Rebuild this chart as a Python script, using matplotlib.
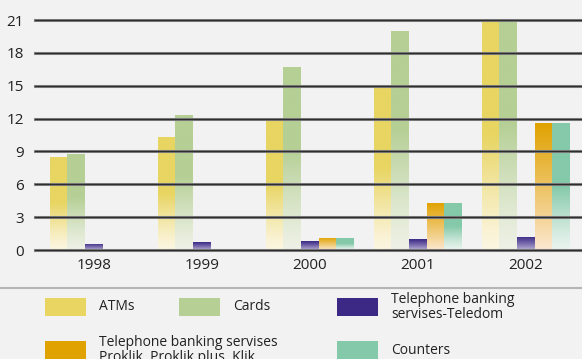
import numpy as np
import matplotlib
matplotlib.use("Agg")
import matplotlib.pyplot as plt
from matplotlib.colors import to_rgba
from matplotlib.patches import Rectangle
from matplotlib.lines import Line2D

plt.rcParams['font.family'] = ['Open Sans', 'DejaVu Sans']

years = ['1998', '1999', '2000', '2001', '2002']
atms = [8.5, 10.3, 12.0, 14.9, 21.0]
cards = [8.8, 12.3, 16.7, 20.0, 21.0]
teledom = [0.55, 0.7, 0.8, 1.0, 1.2]
proklik = [np.nan, np.nan, 1.1, 4.3, 11.6]
counters = [np.nan, np.nan, 1.1, 4.3, 11.6]
yticks = [0, 3, 6, 9, 12, 15, 18, 21]

# (values, top colour, bottom colour, faded part of the bar from the bottom, fade curve)
series = [
    (atms, '#e8d562', '#fcf6e2', 0.5, 1.2),
    (cards, '#b5cf95', '#eef1e6', 0.55, 1.2),
    (teledom, '#3b2985', '#c2badc', 1.0, 0.8),
    (proklik, '#e0a200', '#fce9d4', 1.0, 0.9),
    (counters, '#84c9a9', '#eaf4ef', 0.5, 1.2),
]

BG = '#f2f2f2'
W = 0.164

fig = plt.figure(figsize=(5.82, 3.59), dpi=100, facecolor=BG)
ax = fig.add_axes([35 / 582, 109 / 359, 547 / 582, 230 / 359])
ax.set_facecolor(BG)


def gradient(top, bottom, fade, power, n=200):
    t = np.linspace(0, 1, n)
    top = np.array(to_rgba(top))
    bottom = np.array(to_rgba(bottom))
    f = np.clip(t / fade, 0, 1) ** power
    img = bottom[None, :] * (1 - f[:, None]) + top[None, :] * f[:, None]
    return img[::-1, None, :]


x = np.arange(len(years))
for i, (vals, top, bottom, fade, power) in enumerate(series):
    pos = x + (i - 2) * W
    bars = ax.bar(pos, vals, width=W, color='none', linewidth=0, zorder=3)
    img = gradient(top, bottom, fade, power)
    for rect, v in zip(bars, vals):
        if np.isnan(v):
            continue
        x0 = rect.get_x()
        im = ax.imshow(img, extent=(x0, x0 + W, 0, v), aspect='auto',
                       interpolation='bilinear', zorder=3)
        im.set_clip_path(rect)

# grid lines sit in front of the bars
for y in yticks:
    ax.axhline(y, color='#8a8a8a', lw=2.2, zorder=4, clip_on=False)
    ax.axhline(y, color='#2e2e2e', lw=1.0, zorder=5, clip_on=False)

ax.set_xlim(-0.546, 4.52)
ax.set_ylim(0, 21)
ax.set_yticks(yticks)
ax.set_xticks(x)
ax.set_xticklabels(years)
for s in ax.spines.values():
    s.set_visible(False)
ax.tick_params(length=0, labelsize=11, colors='#222222')
ax.tick_params(axis='y', pad=8)
ax.tick_params(axis='x', pad=6)

# separator above the key
fig.add_artist(Line2D([0, 1], [1 - 288 / 359] * 2, color='#b5b5b5', lw=1.5))

# key
key = [
    ('#e8d562', 45, 307, 'ATMs'),
    ('#b5cf95', 179, 307, 'Cards'),
    ('#3b2985', 337, 307, 'Telephone banking\nservises-Teledom'),
    ('#e0a200', 45, 350, 'Telephone banking servises\nProklik, Proklik plus, Klik'),
    ('#84c9a9', 337, 350, 'Counters'),
]
for color, px, py, label in key:
    fig.add_artist(Rectangle((px / 582, 1 - (py + 9) / 359), 41 / 582, 18 / 359,
                             transform=fig.transFigure, color=color, lw=0))
    fig.text((px + 54) / 582, 1 - py / 359, label, fontsize=10, color='#222222',
             va='center', ha='left', linespacing=1.0)

fig.savefig('out.png', dpi=100, facecolor=BG)
